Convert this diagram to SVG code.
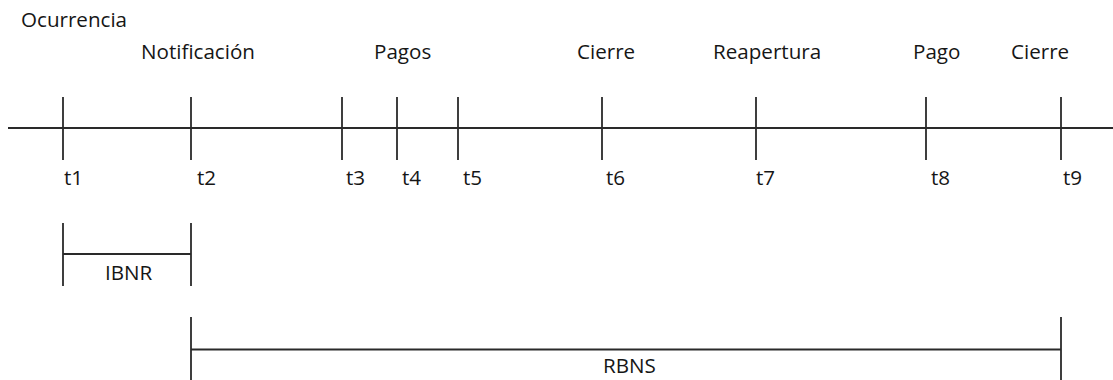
<svg xmlns="http://www.w3.org/2000/svg" width="1113" height="380" viewBox="0 0 1113 380">
  <style>
    .ln { stroke: #2a2a2a; stroke-width: 1.8; fill: none; }
    .lbl { font-family: "Open Sans", "Liberation Sans", sans-serif; font-size: 20.6px; fill: #161616; }
  </style>
  <rect width="1113" height="380" fill="#ffffff"/>

  <!-- time axis and tick marks -->
  <g id="connectors">
    <line class="ln" x1="8" y1="128" x2="1113" y2="128"/>
    <line class="ln" x1="63" y1="97" x2="63" y2="160"/>
    <line class="ln" x1="191" y1="97" x2="191" y2="160"/>
    <line class="ln" x1="342" y1="97" x2="342" y2="160"/>
    <line class="ln" x1="397" y1="97" x2="397" y2="160"/>
    <line class="ln" x1="458" y1="97" x2="458" y2="160"/>
    <line class="ln" x1="602" y1="97" x2="602" y2="160"/>
    <line class="ln" x1="756" y1="97" x2="756" y2="160"/>
    <line class="ln" x1="926" y1="97" x2="926" y2="160"/>
    <line class="ln" x1="1061" y1="97" x2="1061" y2="160"/>
  </g>

  <!-- event labels -->
  <g id="events">
    <text class="lbl" x="21" y="27">Ocurrencia</text>
    <text class="lbl" x="141" y="59">Notificación</text>
    <text class="lbl" x="374" y="59">Pagos</text>
    <text class="lbl" x="577" y="59">Cierre</text>
    <text class="lbl" x="713" y="59">Reapertura</text>
    <text class="lbl" x="913" y="59">Pago</text>
    <text class="lbl" x="1011" y="59">Cierre</text>
  </g>

  <!-- time points -->
  <g id="times">
    <text class="lbl" x="64" y="185">t1</text>
    <text class="lbl" x="197" y="185">t2</text>
    <text class="lbl" x="346" y="185">t3</text>
    <text class="lbl" x="402" y="185">t4</text>
    <text class="lbl" x="463" y="185">t5</text>
    <text class="lbl" x="606" y="185">t6</text>
    <text class="lbl" x="756" y="185">t7</text>
    <text class="lbl" x="931" y="185">t8</text>
    <text class="lbl" x="1063" y="185">t9</text>
  </g>

  <!-- IBNR interval -->
  <g id="ibnr">
    <line class="ln" x1="63" y1="223" x2="63" y2="286"/>
    <line class="ln" x1="191" y1="223" x2="191" y2="286"/>
    <line class="ln" x1="63" y1="254" x2="191" y2="254"/>
    <text class="lbl" x="105" y="280">IBNR</text>
  </g>

  <!-- RBNS interval -->
  <g id="rbns">
    <line class="ln" x1="191" y1="317" x2="191" y2="380"/>
    <line class="ln" x1="1061" y1="317" x2="1061" y2="380"/>
    <line class="ln" x1="191" y1="349.5" x2="1061" y2="349.5"/>
    <text class="lbl" x="603" y="373">RBNS</text>
  </g>
</svg>
